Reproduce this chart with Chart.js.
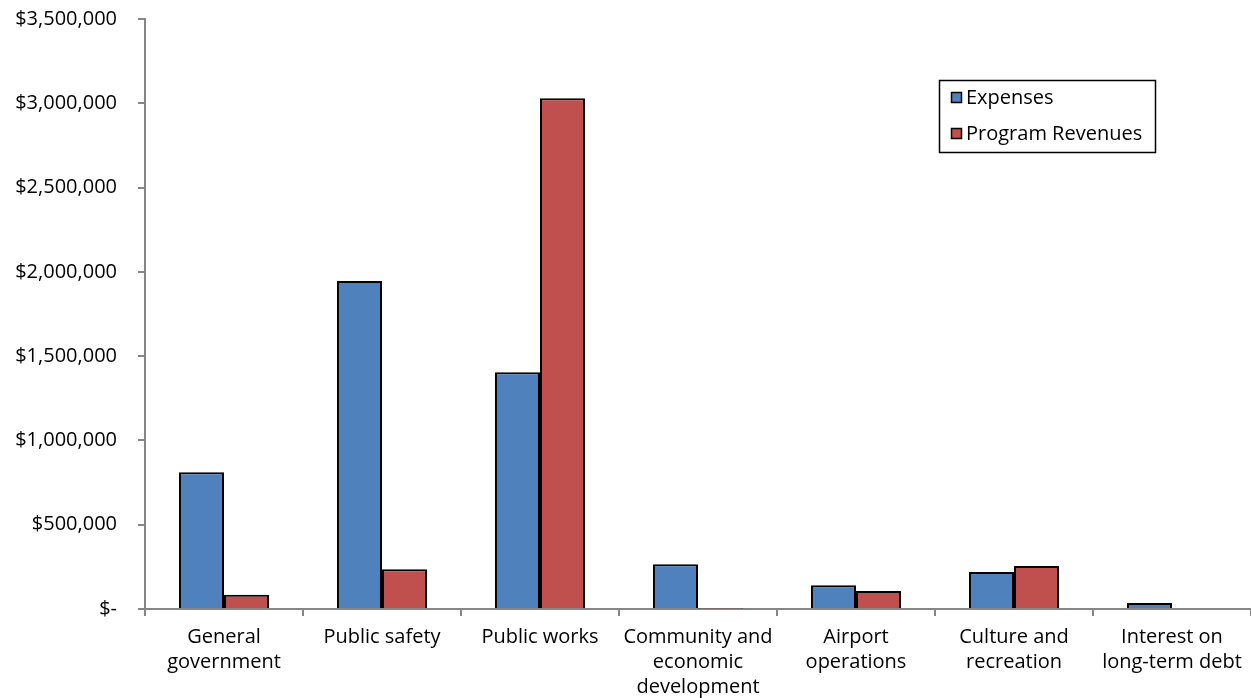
<!DOCTYPE html>
<html>
<head>
<meta charset="utf-8">
<script src="https://cdn.jsdelivr.net/npm/chart.js@4"></script>
<style>
  html, body { margin: 0; padding: 0; background: #ffffff; }
  #wrap { width: 1251px; height: 698px; }
</style>
</head>
<body>
<div id="wrap"><canvas id="c" width="1251" height="698"></canvas></div>
<script>
const categories = [
  ["General", "government"],
  ["Public safety"],
  ["Public works"],
  ["Community and", "economic", "development"],
  ["Airport", "operations"],
  ["Culture and", "recreation"],
  ["Interest on", "long-term debt"]
];
const expenses = [811000, 1946000, 1404000, 266000, 141000, 219000, 36000];
const programRevenues = [85000, 236000, 3030000, 3000, 107000, 255000, 0];
const seriesNames = ["Expenses", "Program Revenues"];
const yTicks = [0, 500000, 1000000, 1500000, 2000000, 2500000, 3000000, 3500000];

const FONT = "'Open Sans', 'Liberation Sans', sans-serif";
const AXIS = "#868686";

const boxLegend = {
  id: 'boxLegend',
  afterDraw(chart) {
    const ctx = chart.ctx;
    const x0 = 939.5, y0 = 80.5, w = 216, h = 72;
    ctx.save();
    ctx.fillStyle = '#ffffff';
    ctx.fillRect(x0, y0, w, h);
    ctx.strokeStyle = '#000000';
    ctx.lineWidth = 1.5;
    ctx.strokeRect(x0, y0, w, h);
    ctx.font = "20px " + FONT;
    ctx.textBaseline = 'middle';
    chart.data.datasets.forEach((ds, i) => {
      const cy = 98 + i * 36;
      ctx.fillStyle = ds.backgroundColor;
      ctx.fillRect(951, cy - 6, 11, 11);
      ctx.strokeStyle = '#000';
      ctx.lineWidth = 1.5;
      ctx.strokeRect(951.5, cy - 5.5, 10, 10);
      ctx.fillStyle = '#000';
      ctx.fillText(ds.label, 966, cy);
    });
    ctx.restore();
  }
};

new Chart(document.getElementById('c'), {
  type: 'bar',
  data: {
    labels: categories,
    datasets: [
      { label: seriesNames[0], data: expenses, backgroundColor: '#4F81BD', borderColor: '#000000', borderWidth: 2,
        categoryPercentage: 0.57, barPercentage: 1.0 },
      { label: seriesNames[1], data: programRevenues, backgroundColor: '#C0504D', borderColor: '#000000', borderWidth: 2,
        categoryPercentage: 0.57, barPercentage: 1.0 }
    ]
  },
  options: {
    responsive: false,
    animation: false,
    devicePixelRatio: 1,
    layout: { padding: { top: 19, right: 0, left: 0, bottom: 0 } },
    plugins: { legend: { display: false }, tooltip: { enabled: false } },
    scales: {
      x: {
        grid: { display: true, drawOnChartArea: false, drawTicks: true, tickLength: 7, color: AXIS, lineWidth: 2, offset: true },
        border: { display: true, color: AXIS, width: 2 },
        ticks: { color: '#000', font: { family: FONT, size: 20, lineHeight: 1.25 }, padding: 9, maxRotation: 0, autoSkip: false },
        afterFit(scale) { scale.height = 89; scale.paddingLeft = 0; scale.paddingRight = 0; }
      },
      y: {
        min: 0, max: 3500000,
        afterBuildTicks(scale) { scale.ticks = yTicks.map(v => ({ value: v })); },
        grid: { display: true, drawOnChartArea: false, drawTicks: true, tickLength: 7, color: AXIS, lineWidth: 2 },
        border: { display: true, color: AXIS, width: 2 },
        ticks: {
          color: '#000', font: { family: FONT, size: 20 }, padding: 21,
          callback: v => v === 0 ? '$-' : '$' + v.toLocaleString('en-US')
        },
        afterFit(scale) { scale.width = 145; scale.paddingTop = 0; scale.paddingBottom = 0; }
      }
    }
  },
  plugins: [boxLegend]
});
</script>
</body>
</html>
